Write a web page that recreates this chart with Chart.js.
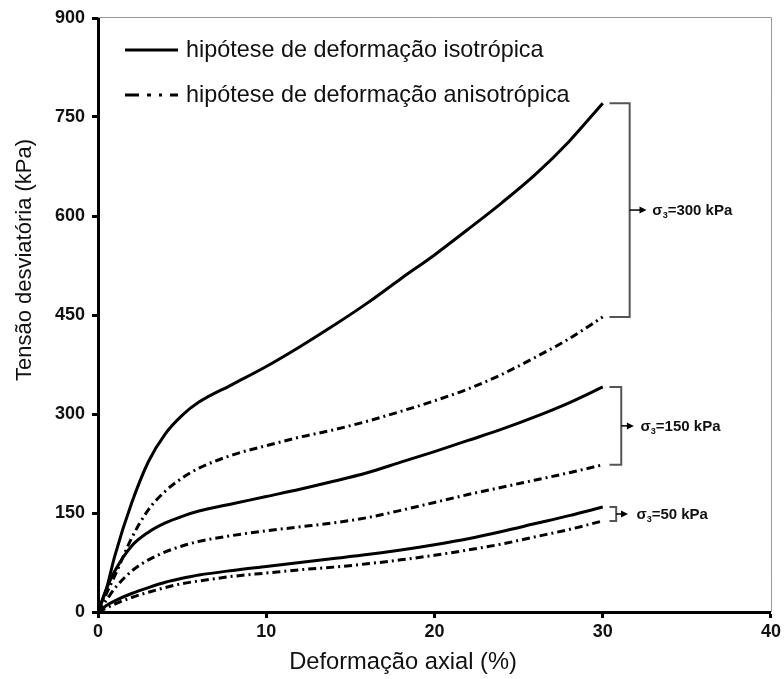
<!DOCTYPE html>
<html>
<head>
<meta charset="utf-8">
<script src="https://cdn.jsdelivr.net/npm/chart.js@4.4.1/dist/chart.umd.min.js"></script>
<style>
  html, body { margin: 0; padding: 0; background: #fff; }
  #wrap { width: 784px; height: 679px; position: relative; }
</style>
</head>
<body>
<div id="wrap"><canvas id="chartJSContainer"></canvas></div>
<script>
// deformação axial (%)
var strain = [0, 0.5, 1, 2, 3, 4, 5, 6, 8, 10, 12, 14, 16, 18, 20, 22, 24, 26, 28, 30];

// tensão desviatória (kPa)
var iso300  = [0, 35, 85, 165, 228, 270, 298, 318, 345, 372, 402, 434, 468, 505, 541, 580, 620, 663, 713, 771];
var anis300 = [0, 28, 55, 112, 155, 183, 203, 218, 238, 252, 265, 276, 289, 304, 320, 338, 360, 386, 414, 447];
var iso150  = [0, 35, 62, 100, 121, 135, 145, 153, 164, 175, 186, 198, 211, 227, 243, 260, 277, 296, 317, 341];
var anis150 = [0, 18, 36, 62, 79, 91, 100, 107, 116, 123, 129, 135, 143, 154, 166, 178, 189, 200, 211, 223];
var iso50   = [0, 10, 17, 28, 37, 45, 51, 56, 63, 69, 75, 81, 87, 94, 102, 111, 122, 134, 146, 159];
var anis50  = [0, 6, 12, 22, 30, 37, 43, 47, 54, 59, 64, 68, 73, 79, 86, 94, 103, 114, 125, 138];

var xTicks = [0, 10, 20, 30, 40];
var yTicks = [0, 150, 300, 450, 600, 750, 900];

var legendLabels = ['hipótese de deformação isotrópica', 'hipótese de deformação anisotrópica'];
var groupLabels = ['300', '150', '50'];

var dashDot = [8, 4, 2, 4];
var fontFam = '"Liberation Sans", Arial, sans-serif';

function pts(ys) {
  return strain.map(function (x, i) { return { x: x, y: ys[i] }; });
}

function serie(label, ys, dashed) {
  return {
    label: label,
    data: pts(ys),
    showLine: true,
    borderColor: '#000',
    borderWidth: 3,
    borderDash: dashed ? dashDot : [],
    pointRadius: 0,
    cubicInterpolationMode: 'monotone',
    fill: false
  };
}

var extras = {
  id: 'extras',
  afterDraw: function (chart) {
    var c = chart.ctx, xs = chart.scales.x, ys = chart.scales.y, a = chart.chartArea;
    c.save();

    // moldura cinza
    c.strokeStyle = '#999';
    c.lineWidth = 1;
    c.beginPath();
    c.moveTo(a.left, a.top - 0.5);
    c.lineTo(a.right + 0.5, a.top - 0.5);
    c.lineTo(a.right + 0.5, a.bottom);
    c.stroke();

    // legenda
    c.strokeStyle = '#000';
    c.lineWidth = 3;
    c.fillStyle = '#111';
    c.font = '23.4px ' + fontFam;
    c.textBaseline = 'middle';
    [50, 95].forEach(function (y, i) {
      c.setLineDash(i ? [14, 8, 4, 8, 3, 8] : []);
      c.beginPath();
      c.moveTo(125, y);
      c.lineTo(178, y);
      c.stroke();
      c.fillText(legendLabels[i], 186, y + 1);
    });
    c.setLineDash([]);

    // chaves
    var groups = [
      { top: iso300[iso300.length - 1], bot: anis300[anis300.length - 1], xv: 31.6, xa: 32.6, xt: 32.95 },
      { top: iso150[iso150.length - 1], bot: anis150[anis150.length - 1], xv: 31.1, xa: 31.85, xt: 32.25 },
      { top: iso50[iso50.length - 1], bot: anis50[anis50.length - 1], xv: 30.8, xa: 31.5, xt: 32.0 }
    ];
    groups.forEach(function (g, i) {
      var x0 = xs.getPixelForValue(30.4), xv = xs.getPixelForValue(g.xv);
      var y1 = ys.getPixelForValue(g.top), y2 = ys.getPixelForValue(g.bot);
      var ym = (y1 + y2) / 2;
      c.strokeStyle = '#555';
      c.lineWidth = 2;
      c.beginPath();
      c.moveTo(x0, y1);
      c.lineTo(xv, y1);
      c.lineTo(xv, y2);
      c.lineTo(x0, y2);
      c.stroke();

      var xa = xs.getPixelForValue(g.xa);
      c.strokeStyle = '#000';
      c.lineWidth = 1.5;
      c.beginPath();
      c.moveTo(xv, ym);
      c.lineTo(xa - 5, ym);
      c.stroke();
      c.fillStyle = '#000';
      c.beginPath();
      c.moveTo(xa, ym);
      c.lineTo(xa - 7, ym - 3.5);
      c.lineTo(xa - 7, ym + 3.5);
      c.closePath();
      c.fill();

      var xt = xs.getPixelForValue(g.xt);
      c.fillStyle = '#111';
      c.textBaseline = 'alphabetic';
      c.font = 'bold 15px ' + fontFam;
      c.fillText('σ', xt, ym + 5);
      var w = c.measureText('σ').width;
      c.font = 'bold 9px ' + fontFam;
      c.fillText('3', xt + w, ym + 8);
      var w2 = c.measureText('3').width;
      c.font = 'bold 15px ' + fontFam;
      c.fillText('=' + groupLabels[i] + ' kPa', xt + w + w2, ym + 5);
    });

    // títulos dos eixos
    c.fillStyle = '#111';
    c.font = '23.7px ' + fontFam;
    c.textAlign = 'center';
    c.textBaseline = 'middle';
    c.fillText('Deformação axial (%)', 403, 662);
    c.translate(25, 260);
    c.rotate(-Math.PI / 2);
    c.font = '22px ' + fontFam;
    c.fillText('Tensão desviatória (kPa)', 0, 0);
    c.restore();
  }
};

var options = {
  type: 'scatter',
  data: {
    datasets: [
      serie('iso300', iso300, false),
      serie('anis300', anis300, true),
      serie('iso150', iso150, false),
      serie('anis150', anis150, true),
      serie('iso50', iso50, false),
      serie('anis50', anis50, true)
    ]
  },
  options: {
    responsive: true,
    maintainAspectRatio: false,
    animation: false,
    layout: { padding: { top: 18, right: 3, left: 0, bottom: 0 } },
    plugins: { legend: { display: false }, tooltip: { enabled: false } },
    scales: {
      x: {
        type: 'linear',
        min: 0, max: 40,
        afterBuildTicks: function (s) { s.ticks = xTicks.map(function (v) { return { value: v }; }); },
        afterFit: function (s) { s.height = 67; },
        border: { display: true, color: '#000', width: 3 },
        grid: { display: true, drawOnChartArea: false, color: '#000', tickColor: '#000', tickWidth: 3, tickLength: 6 },
        ticks: { color: '#111', padding: 3, maxRotation: 0, font: { family: fontFam, size: 18, weight: 'bold' } }
      },
      y: {
        type: 'linear',
        min: 0, max: 900,
        afterBuildTicks: function (s) { s.ticks = yTicks.map(function (v) { return { value: v }; }); },
        afterFit: function (s) { s.width = 98; },
        border: { display: true, color: '#000', width: 3 },
        grid: { display: true, drawOnChartArea: false, color: '#000', tickColor: '#000', tickWidth: 3, tickLength: 6 },
        ticks: { color: '#111', padding: 7, font: { family: fontFam, size: 18, weight: 'bold' } }
      }
    }
  },
  plugins: [extras]
};

var ctx = document.getElementById('chartJSContainer');
var myChart = new Chart(ctx, options);
</script>
</body>
</html>
